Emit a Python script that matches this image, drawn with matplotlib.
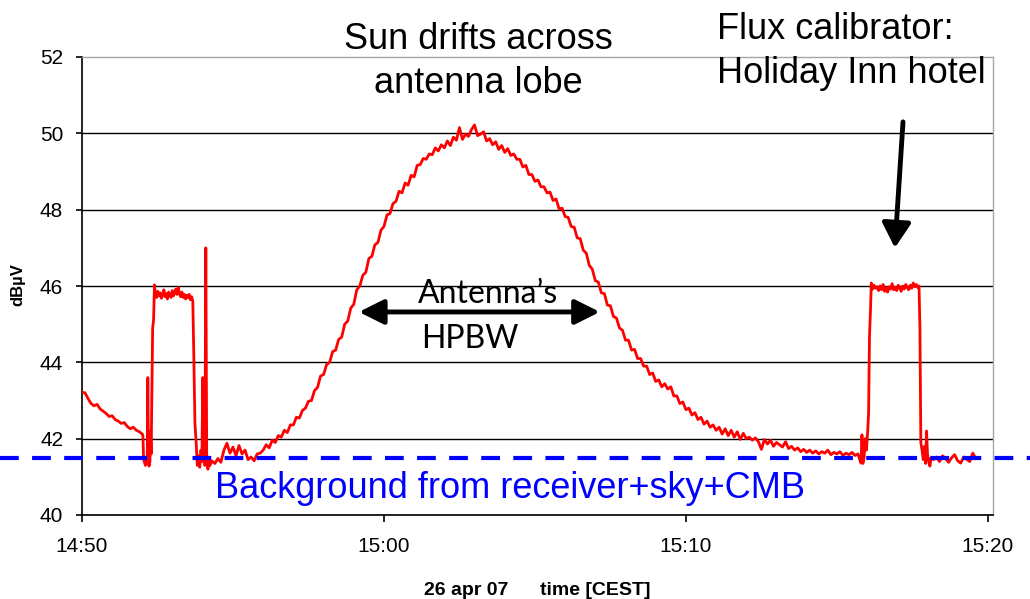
import numpy as np
import matplotlib
matplotlib.use('Agg')
import matplotlib.pyplot as plt

plt.rcParams['font.family'] = ['Liberation Sans', 'DejaVu Sans']

# receiver level in dBuV, time in minutes after 14:50 (26 apr 07)
STEP = 0.1  # logger sample interval, minutes

# settling after switch-on, one sample every STEP from 14:50
settle_t0 = 0.0
settle_db = [43.22, 43.20, 43.05, 42.92, 42.86, 42.90, 42.78, 42.72, 42.66, 42.58,
             42.60, 42.50, 42.46, 42.40, 42.42, 42.32, 42.26, 42.30, 42.22, 42.18,
             42.12]

# first pointing at the hotel + switching spikes
cal1_t = [2.02, 2.04, 2.07, 2.10, 2.13, 2.16, 2.18, 2.20, 2.22, 2.25, 2.27, 2.29, 2.31, 2.34, 2.37, 2.40,
          2.43, 2.47, 2.51, 2.55, 2.59, 2.63, 2.67, 2.71, 2.75, 2.79, 2.83, 2.87, 2.91, 2.95, 2.99, 3.03,
          3.07, 3.11, 3.15, 3.19, 3.23, 3.27, 3.31, 3.35, 3.39, 3.43, 3.47, 3.51, 3.55, 3.59, 3.63, 3.67,
          3.70, 3.74, 3.78, 3.82, 3.86, 3.90, 3.94, 3.97, 4.00, 4.03, 4.07, 4.10, 4.13, 4.17, 4.20, 4.24]
cal1_db = [42.05, 41.45, 41.38, 41.30, 41.42, 41.35, 43.60, 41.50, 41.28, 41.40, 42.20, 41.60, 42.90, 44.90, 45.10, 46.03,
           45.80, 45.70, 45.86, 45.74, 45.82, 45.68, 45.78, 45.90, 45.72, 45.80, 45.66, 45.84, 45.76, 45.70, 45.88, 45.74,
           45.82, 45.92, 45.78, 45.96, 45.80, 45.72, 45.84, 45.70, 45.78, 45.66, 45.76, 45.70, 45.78, 45.64, 45.72, 45.60,
           44.30, 42.40, 41.90, 41.30, 41.55, 41.25, 41.70, 41.40, 43.60, 41.50, 41.30, 47.00, 41.60, 41.20, 41.45, 41.30]

# quiet sky, then the sun drifting through the lobe, one sample every STEP
drift_t0 = 4.3
drift_db = [41.42, 41.35, 41.48, 41.38, 41.70, 41.88, 41.62,
            41.78, 41.55, 41.82, 41.60, 41.70, 41.45, 41.52, 41.42, 41.60, 41.62,
            41.70, 41.84, 41.76, 41.96, 41.90, 42.08, 42.04, 42.22, 42.16, 42.36,
            42.36, 42.56, 42.54, 42.74, 42.80, 42.98, 43.00, 43.26, 43.34, 43.64,
            43.68, 43.94, 44.00, 44.28, 44.32, 44.60, 44.66, 45.00, 45.08, 45.42,
            45.52, 45.90, 46.00, 46.28, 46.36, 46.72, 46.78, 47.08, 47.14, 47.46,
            47.56, 47.86, 47.90, 48.16, 48.22, 48.48, 48.44, 48.70, 48.64, 48.90,
            48.86, 49.16, 49.18, 49.34, 49.32, 49.46, 49.44, 49.62, 49.54, 49.70,
            49.62, 49.80, 49.68, 49.90, 49.82, 50.15, 49.84, 49.98, 49.92, 50.10,
            50.22, 49.94, 49.98, 50.04, 49.80, 49.86, 49.70, 49.78, 49.58, 49.68,
            49.50, 49.60, 49.42, 49.46, 49.32, 49.32, 49.12, 49.16, 48.92, 48.92,
            48.74, 48.78, 48.60, 48.60, 48.44, 48.46, 48.24, 48.28, 48.02, 48.04,
            47.82, 47.80, 47.56, 47.54, 47.26, 47.24, 46.94, 46.86, 46.54, 46.44,
            46.14, 46.10, 45.82, 45.80, 45.50, 45.48, 45.20, 45.16, 44.90, 44.84,
            44.58, 44.58, 44.32, 44.34, 44.10, 44.10, 43.90, 43.90, 43.68, 43.72,
            43.50, 43.54, 43.36, 43.44, 43.30, 43.36, 43.12, 43.12, 42.92, 42.96,
            42.76, 42.80, 42.62, 42.68, 42.50, 42.56, 42.38, 42.46, 42.30, 42.36,
            42.22, 42.30, 42.12, 42.26, 42.08, 42.22, 42.04, 42.18, 41.98, 42.14,
            42.00, 42.04, 41.96, 42.02, 41.92, 41.72, 41.98, 41.86, 41.96, 41.80,
            41.90, 41.84, 41.78, 41.92, 41.74, 41.80, 41.70, 41.76, 41.66, 41.72,
            41.64, 41.70, 41.62, 41.68, 41.60, 41.66, 41.62, 41.70, 41.58, 41.64,
            41.60, 41.66, 41.56, 41.62, 41.58, 41.64, 41.56, 41.60]

# second pointing at the hotel (flux calibrator)
cal2_t = [25.76, 25.80, 25.83, 25.86, 25.90, 25.94, 25.98, 26.02, 26.05, 26.08, 26.11, 26.14,
          26.18, 26.23, 26.28, 26.33, 26.38, 26.43, 26.48, 26.53, 26.58, 26.63, 26.68, 26.73,
          26.78, 26.83, 26.88, 26.93, 26.98, 27.03, 27.08, 27.13, 27.18, 27.23, 27.28, 27.33,
          27.38, 27.43, 27.48, 27.53, 27.58, 27.63, 27.68,
          27.72, 27.75, 27.78, 27.82, 27.86, 27.90, 27.94, 27.97, 28.00, 28.04, 28.08, 28.12]
cal2_db = [41.44, 41.36, 42.10, 41.35, 41.50, 42.00, 41.70, 42.20, 42.67, 44.70, 45.30, 46.08,
           45.92, 46.02, 45.94, 45.98, 45.88, 46.00, 45.90, 46.04, 45.86, 45.96, 45.84, 45.98,
           45.92, 46.06, 45.90, 45.96, 45.88, 46.02, 45.94, 45.86, 46.00, 45.92, 46.04, 45.96,
           45.90, 46.02, 45.94, 46.08, 45.98, 46.04, 45.96,
           46.00, 44.90, 41.90, 41.70, 41.45, 41.80, 41.35, 42.20, 41.60, 41.40, 41.28, 41.50]

tail_t0 = 28.2
tail_db = [41.45, 41.52, 41.40, 41.55, 41.48, 41.38, 41.50, 41.58, 41.42, 41.36,
           41.52, 41.46, 41.40, 41.62, 41.48]

background_db = 41.5
x_ticks = [0, 10, 20, 30]
x_labels = ['14:50', '15:00', '15:10', '15:20']
y_ticks = [40, 42, 44, 46, 48, 50, 52]


def regular(t0, values):
    return t0 + STEP * np.arange(len(values))


t = np.concatenate([regular(settle_t0, settle_db), cal1_t,
                    regular(drift_t0, drift_db), cal2_t,
                    regular(tail_t0, tail_db)])
db = np.concatenate([settle_db, cal1_db, drift_db, cal2_db, tail_db])

W, H = 1030, 599
fig = plt.figure(figsize=(W / 100, H / 100), dpi=100)
ax = fig.add_axes([82 / W, 1 - 515 / H, 911 / W, 458 / H])

ax.plot(t, db, color='red', lw=2.0, zorder=3)

ax.set_xlim(0, 30.17)
ax.set_ylim(40, 52)
ax.set_xticks(x_ticks)
ax.set_xticklabels(x_labels)
ax.set_yticks(y_ticks)

ax.yaxis.grid(True, color='black', lw=1.0)
ax.set_axisbelow(True)
ax.get_ygridlines()[-1].set_visible(False)

for side in ['top', 'right']:
    ax.spines[side].set_color('#a6a6a6')
    ax.spines[side].set_linewidth(1.0)
for side in ['left', 'bottom']:
    ax.spines[side].set_color('black')
    ax.spines[side].set_linewidth(1.2)

ax.tick_params(axis='y', direction='out', length=4.5, width=1.2, labelsize=15, pad=9)
ax.tick_params(axis='x', direction='out', length=5, width=1.2, labelsize=15, pad=11)

# background level, runs past both edges of the plot
ax.axhline(background_db, xmin=-82 / 911, xmax=(W - 82) / 911, clip_on=False,
           color='blue', lw=3, dashes=(4.5, 3.2), zorder=4)
ax.text(14.17, 40.45, 'Background from receiver+sky+CMB', color='blue',
        fontsize=26, ha='center', va='baseline')

# half power beam width arrow
ax.annotate('', xy=(9.17, 45.32), xytext=(17.15, 45.32),
            arrowprops=dict(arrowstyle='<|-|>,head_length=0.6,head_width=0.3',
                            mutation_scale=25, lw=3.5, color='black',
                            shrinkA=0, shrinkB=0))
ax.text(11.13, 52 - (303 - 57) / 38.17, 'Antenna\u2019s', family=['Lato', 'DejaVu Sans'],
        fontsize=23, ha='left', va='baseline')
ax.text(11.23, 52 - (348 - 57) / 38.17, 'HPBW', family=['Lato', 'DejaVu Sans'],
        fontsize=23, ha='left', va='baseline')

# arrow pointing at the calibrator plateau
ax.annotate('', xy=(26.92, 47.0), xytext=(27.19, 50.30),
            arrowprops=dict(arrowstyle='-|>,head_length=0.6,head_width=0.35',
                            mutation_scale=25, lw=3.5, color='black',
                            shrinkA=0, shrinkB=0))

fig.text(478 / W, 1 - 49 / H, 'Sun drifts across', fontsize=26, ha='center', va='baseline')
fig.text(478 / W, 1 - 93 / H, 'antenna lobe', fontsize=26, ha='center', va='baseline')
fig.text(717 / W, 1 - 39 / H, 'Flux calibrator:', fontsize=26, ha='left', va='baseline')
fig.text(717 / W, 1 - 83 / H, 'Holiday Inn hotel', fontsize=26, ha='left', va='baseline')

fig.text(18 / W, 1 - 285 / H, 'dB\u00b5V', rotation=90, fontsize=12, fontweight='bold',
         ha='center', va='center')
fig.text(424 / W, 1 - 595 / H, '26 apr 07', fontsize=14, fontweight='bold',
         ha='left', va='baseline')
fig.text(540 / W, 1 - 595 / H, 'time [CEST]', fontsize=14, fontweight='bold',
         ha='left', va='baseline')

fig.savefig('out.png', dpi=100)
